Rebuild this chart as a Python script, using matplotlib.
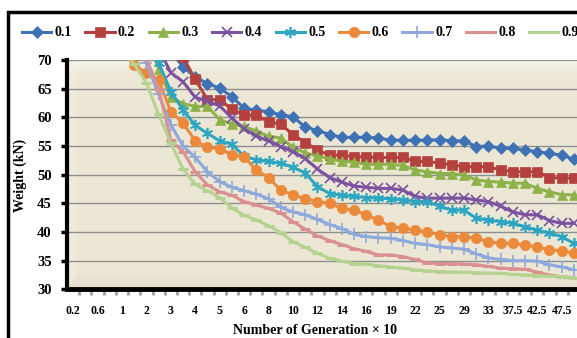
import numpy as np
import matplotlib
matplotlib.use("Agg")
import matplotlib.pyplot as plt
from matplotlib.patches import Rectangle

plt.rcParams['font.family'] = ['Liberation Serif', 'DejaVu Serif']
plt.rcParams['font.weight'] = 'bold'

# generation categories (x 10), only every second one is labelled
generation = ['0.2', '0.4', '0.6', '0.8', '1', '1.5', '2', '2.5', '3', '3.5',
              '4', '4.5', '5', '5.5', '6', '7', '8', '9', '10', '11',
              '12', '13', '14', '15', '16', '17.5', '19', '20.5', '22', '23.5',
              '25', '27', '29', '31', '33', '35', '37.5', '40', '42.5', '45',
              '47.5', '50']

w01 = [98, 95, 92, 89, 86, 83, 80, 76, 71.5, 68.8, 67.0, 65.9, 65.1, 63.6, 61.6,
       61.2, 61.0, 60.4, 60.1, 58.3, 57.7, 57.0, 56.5, 56.5, 56.5, 56.4, 56.0,
       56.0, 56.0, 56.0, 56.1, 55.9, 55.9, 54.9, 55.0, 54.6, 54.6, 54.3, 54.0,
       53.7, 53.4, 52.7]
w02 = [99, 96, 93, 90, 87, 84, 81, 77.5, 74, 70.5, 66.6, 63.1, 63.1, 61.4, 60.4,
       60.4, 59.2, 58.8, 57.0, 55.6, 54.3, 53.4, 53.4, 53.1, 53.1, 53.0, 53.0,
       53.0, 52.3, 52.3, 52.0, 51.7, 51.4, 51.4, 51.4, 50.8, 50.5, 50.5, 50.5,
       49.5, 49.4, 49.4]
w03 = [95, 92, 89, 86, 83, 79, 74, 68.5, 63.5, 62.4, 61.9, 61.9, 59.6, 58.8, 58.4,
       57.6, 56.7, 56.4, 54.8, 53.8, 53.2, 52.8, 52.3, 52.2, 51.8, 51.8, 51.8,
       51.6, 50.8, 50.5, 50.2, 50.2, 49.9, 49.1, 48.8, 48.7, 48.5, 48.5, 47.6,
       47.0, 46.5, 46.5]
w04 = [96, 93, 90, 87, 84, 80, 76, 72, 67.8, 66.2, 63.5, 62.8, 62.0, 59.9, 58.0,
       56.7, 55.9, 54.9, 54.0, 52.8, 51.0, 49.5, 48.7, 48.0, 47.8, 47.6, 47.6,
       47.3, 46.2, 45.9, 45.9, 45.9, 45.9, 45.6, 45.3, 44.5, 43.5, 43.0, 43.0,
       42.0, 41.5, 41.5]
w05 = [95, 92, 89, 86, 83, 79, 74.5, 69.5, 64.5, 61.3, 58.6, 57.2, 55.9, 55.3, 53.2,
       52.6, 52.3, 52.0, 51.3, 50.3, 47.9, 46.7, 46.4, 46.2, 46.0, 45.9, 45.8,
       45.6, 45.3, 45.3, 44.5, 43.8, 43.8, 42.4, 42.1, 41.8, 41.5, 40.9, 40.3,
       39.8, 39.2, 38.0]
w06 = [86, 82, 78, 74.5, 71.5, 69.2, 67.7, 66.5, 61.0, 59.0, 55.9, 54.8, 54.5, 53.5,
       53.1, 50.8, 49.5, 47.3, 46.5, 45.8, 45.3, 45.0, 44.1, 43.8, 43.0, 42.1,
       40.9, 40.7, 40.3, 40.0, 39.5, 39.2, 39.2, 38.9, 38.3, 38.0, 38.0, 37.7,
       37.4, 36.9, 36.7, 36.3]
w07 = [90, 86, 82, 78, 75, 72.5, 69.5, 64.0, 58.7, 55.0, 53.0, 50.5, 48.8, 47.8,
       47.2, 46.6, 45.8, 44.3, 43.5, 43.0, 42.2, 41.3, 40.6, 39.6, 39.2, 39.0,
       38.9, 38.5, 38.0, 37.8, 37.4, 37.2, 37.0, 36.2, 35.5, 35.2, 35.0, 35.0,
       34.9, 34.3, 33.9, 33.4]
w08 = [90, 86, 82, 78, 75, 72, 70.3, 65.0, 56.0, 54.0, 50.5, 48.2, 47.0, 46.4, 45.3,
       44.7, 44.1, 43.3, 41.8, 40.5, 39.3, 38.5, 37.8, 37.1, 36.6, 36.0, 36.0,
       35.7, 35.2, 34.6, 34.5, 34.5, 34.4, 34.3, 34.0, 33.7, 33.6, 33.5, 33.0,
       32.5, 32.2, 32.0]
w09 = [88, 84, 80, 76, 72, 69.3, 66.0, 60.5, 55.5, 51.0, 48.3, 47.2, 46.0, 44.2,
       42.9, 42.1, 41.1, 39.9, 38.3, 37.3, 36.3, 35.4, 34.9, 34.5, 34.4, 34.1,
       33.9, 33.7, 33.4, 33.2, 33.1, 33.0, 33.0, 32.9, 32.8, 32.8, 32.6, 32.5,
       32.4, 32.3, 32.2, 32.0]

names = ['0.1', '0.2', '0.3', '0.4', '0.5', '0.6', '0.7', '0.8', '0.9']
series = [w01, w02, w03, w04, w05, w06, w07, w08, w09]
colors = ['#3F72B5', '#B5413F', '#8DB24A', '#7B52A0', '#2FA6C1', '#EC8A3C',
          '#8EA9DB', '#DA9090', '#B5D38F']
markers = ['D', 's', '^', 'x', (6, 2, 0), 'o', '+', '_', '_']
msizes = [6, 7, 7, 7, 8, 7.5, 8, 7, 7]

W, H = 577, 338
fig = plt.figure(figsize=(W / 100, H / 100), dpi=100)
fig.patch.set_facecolor('white')

ax = fig.add_axes([67 / W, 48.7 / H, (580 - 67) / W, (289.3 - 60) / H])
x = np.arange(len(generation))

# beige plot-area background: lighter top edge, soft darker floor
rows, cols = 230, 513
base = np.array([236, 231, 213]) / 255.0
bg = np.ones((rows, cols, 3)) * base
r = np.arange(rows)[:, None, None]
c = np.arange(cols)[None, :, None]
top = np.exp(-r / 6.0)
bg = bg * (1 - top) + np.ones(3) * top
floor = np.clip((r - (rows - 16)) / 16.0, 0, 1) * (c >= (rows - r) * 0.7)
bg = bg * (1 - floor) + (np.array([226, 220, 201]) / 255.0) * floor
wall = ((c < 9) & (r < rows - 10)).astype(float)
bg = bg * (1 - 0.5 * wall) + (np.array([243, 240, 228]) / 255.0) * 0.5 * wall
ax.imshow(bg, extent=(-0.5, len(x) - 0.5, 30, 70), aspect='auto', zorder=0,
          interpolation='bilinear')

for name, vals, col, mk, ms in zip(names, series, colors, markers, msizes):
    if mk in ('x', '+') or isinstance(mk, tuple):
        mew = 1.2
    elif mk == '_':
        mew = 2.2
    else:
        mew = 0.5
    ax.plot(x, vals, color=col, lw=2.2, marker=mk, markersize=ms,
            markeredgewidth=mew, markerfacecolor=col, markeredgecolor=col,
            label=name, zorder=3)

ax.set_xlim(-0.5, len(x) - 0.5)
ax.set_ylim(30, 70)
ax.set_yticks(np.arange(30, 71, 5))
ax.set_xticks(x[::2])
ax.set_xticklabels(generation[::2])
ax.set_xticks(x[:-1] + 0.5, minor=True)
ax.yaxis.grid(True, color='#8f8f8f', lw=1.0)
ax.set_axisbelow(True)

for s in ['top', 'right']:
    ax.spines[s].set_visible(False)
ax.spines['left'].set_linewidth(3)
ax.spines['bottom'].set_linewidth(3.5)

ax.tick_params(axis='y', direction='out', length=4, width=2.5, color='black',
               pad=7, labelsize=10.5)
ax.tick_params(axis='x', which='major', length=0, pad=11, labelsize=8.5)
ax.tick_params(axis='x', which='minor', direction='out', length=4, width=2,
               color='#a0a0a0')
for lab in ax.get_xticklabels() + ax.get_yticklabels():
    lab.set_fontweight('bold')

fig.text(315 / W, 1 - 331 / H, 'Number of Generation × 10', ha='center',
         va='center', fontsize=10, fontweight='bold')
fig.text(20 / W, 1 - 175 / H, 'Weight (kN)', ha='center', va='center',
         rotation=90, fontsize=10, fontweight='bold')

fig.legend(loc='center left', bbox_to_anchor=(22 / W, 1 - 33 / H), ncol=9,
           frameon=False, prop={'size': 10, 'weight': 'bold'},
           handlelength=2.1, handletextpad=0.25, columnspacing=0.97,
           borderaxespad=0, borderpad=0)

# outer chart border (cropped on the right and bottom)
fig.add_artist(Rectangle((8 / W, -0.5), 2.0, 0.5 + 1 - 12 / H,
                         transform=fig.transFigure, fill=False,
                         lw=2.5, edgecolor='black'))

fig.savefig('out.png', dpi=100)
